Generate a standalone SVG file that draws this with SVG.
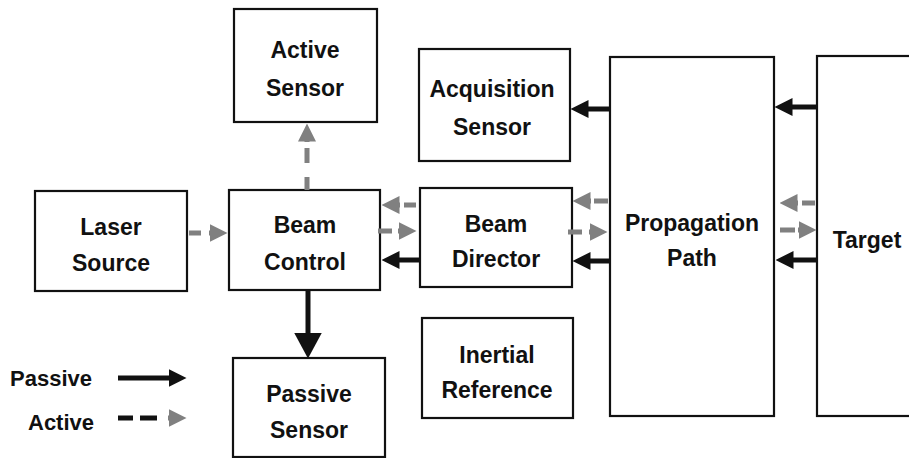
<svg xmlns="http://www.w3.org/2000/svg" width="909" height="458" viewBox="0 0 909 458">
<style>
  .box { fill: #ffffff; stroke: #111111; stroke-width: 2.2; }
  .lbl { font-family: "Liberation Sans", Arial, sans-serif; font-weight: bold; font-size: 23px; fill: #111111; text-anchor: middle; }
  .leg { font-family: "Liberation Sans", Arial, sans-serif; font-weight: bold; font-size: 22px; fill: #111111; }
  .pas { fill: none; stroke: #111111; stroke-width: 5; }
  .act { fill: none; stroke: #808080; stroke-width: 5; }
  .actk { fill: none; stroke: #111111; stroke-width: 5; }
</style>
<defs>
  <marker id="ph" markerUnits="userSpaceOnUse" viewBox="0 0 18 18" markerWidth="18" markerHeight="18" refX="0.5" refY="9" orient="auto">
    <polygon points="0,0 18,9 0,18" fill="#111111"/>
  </marker>
  <marker id="phL" markerUnits="userSpaceOnUse" viewBox="0 0 26 28" markerWidth="26" markerHeight="28" refX="0.5" refY="14" orient="auto">
    <polygon points="0,0 26,14 0,28" fill="#111111"/>
  </marker>
  <marker id="ah" markerUnits="userSpaceOnUse" viewBox="0 0 18 18" markerWidth="18" markerHeight="18" refX="0.5" refY="9" orient="auto">
    <polygon points="0,0 18,9 0,18" fill="#808080"/>
  </marker>
</defs>
<rect width="909" height="458" fill="#ffffff"/>

<g id="active-sensor">
  <rect class="box" x="234" y="9" width="143" height="113"/>
  <text class="lbl" x="305" y="58">Active</text>
  <text class="lbl" x="305" y="96">Sensor</text>
</g>
<g id="acquisition-sensor">
  <rect class="box" x="419" y="49" width="151" height="112"/>
  <text class="lbl" x="492" y="97">Acquisition</text>
  <text class="lbl" x="492" y="135">Sensor</text>
</g>
<g id="propagation-path">
  <rect class="box" x="610" y="57" width="164" height="359"/>
  <text class="lbl" x="692" y="231">Propagation</text>
  <text class="lbl" x="692" y="266">Path</text>
</g>
<g id="target">
  <rect class="box" x="817" y="56" width="110" height="360"/>
  <text class="lbl" x="867" y="248">Target</text>
</g>
<g id="laser-source">
  <rect class="box" x="35" y="191" width="152" height="100"/>
  <text class="lbl" x="111" y="235">Laser</text>
  <text class="lbl" x="111" y="271">Source</text>
</g>
<g id="beam-control">
  <rect class="box" x="229" y="190" width="151" height="100"/>
  <text class="lbl" x="305" y="233">Beam</text>
  <text class="lbl" x="305" y="270">Control</text>
</g>
<g id="beam-director">
  <rect class="box" x="420" y="188" width="152" height="99"/>
  <text class="lbl" x="496" y="232">Beam</text>
  <text class="lbl" x="496" y="267">Director</text>
</g>
<g id="passive-sensor">
  <rect class="box" x="233" y="358" width="152" height="99"/>
  <text class="lbl" x="309" y="402">Passive</text>
  <text class="lbl" x="309" y="438">Sensor</text>
</g>
<g id="inertial-reference">
  <rect class="box" x="422" y="318" width="151" height="100"/>
  <text class="lbl" x="497" y="363">Inertial</text>
  <text class="lbl" x="497" y="398">Reference</text>
</g>

<g id="connectors">
  <path class="act" d="M189,233 H201 M209,233 H210" marker-end="url(#ah)"/>
  <path class="act" d="M307,190 V177 M307,163 V148 M307,142 V141" marker-end="url(#ah)"/>
  <path class="pas" d="M308,290 V333" marker-end="url(#phL)"/>
  <path class="act" d="M416,205 H404 M400,205 H399" marker-end="url(#ah)"/>
  <path class="act" d="M378,231 H392 M398,231 H399" marker-end="url(#ah)"/>
  <path class="pas" d="M420,260 H399" marker-end="url(#ph)"/>
  <path class="act" d="M608,201 H594 M591,201 H590" marker-end="url(#ah)"/>
  <path class="act" d="M568,232 H582 M589,232 H590" marker-end="url(#ah)"/>
  <path class="pas" d="M610,261 H590" marker-end="url(#ph)"/>
  <path class="pas" d="M610,109 H588" marker-end="url(#ph)"/>
  <path class="pas" d="M817,107 H792" marker-end="url(#ph)"/>
  <path class="pas" d="M817,260 H793" marker-end="url(#ph)"/>
  <path class="act" d="M815,203 H802 M798,203 H797" marker-end="url(#ah)"/>
  <path class="act" d="M780,230 H795 M798,230 H799" marker-end="url(#ah)"/>
</g>

<g id="legend">
  <text class="leg" x="10" y="386">Passive</text>
  <path class="pas" d="M118,378 H169" marker-end="url(#ph)"/>
  <text class="leg" x="28" y="430">Active</text>
  <path class="actk" d="M118,418 H133 M140,418 H157"/>
  <path class="act" d="M168,418 H169" marker-end="url(#ah)" stroke="none"/>
</g>
</svg>
